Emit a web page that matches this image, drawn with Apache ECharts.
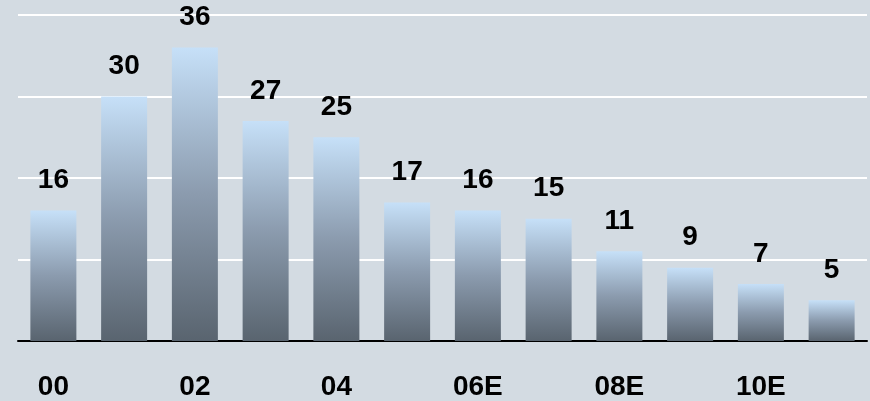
<!DOCTYPE html>
<html>
<head>
<meta charset="utf-8">
<script src="https://cdn.jsdelivr.net/npm/echarts@6/dist/echarts.min.js"></script>
<style>
html,body{margin:0;padding:0;background:#d3dbe2;}
#chart{width:870px;height:401px;}
</style>
</head>
<body>
<div id="chart"></div>
<script>
const categories = ['00','01','02','03','04','05','06E','07E','08E','09E','10E','11E'];
const values = [16, 30, 36, 27, 25, 17, 16, 15, 11, 9, 7, 5];

const chart = echarts.init(document.getElementById('chart'), null, {renderer:'canvas'});
chart.setOption({
  backgroundColor: '#d3dbe2',
  animation: false,
  grid: {left: 18, right: 3, top: 15, bottom: 59, containLabel: false},
  xAxis: {
    type: 'category',
    data: categories,
    axisLine: {show: true, lineStyle: {color: '#000', width: 2}},
    axisTick: {show: false},
    axisLabel: {
      interval: 1,
      margin: 32,
      color: '#000',
      fontFamily: '"Liberation Sans", Arial, sans-serif',
      fontWeight: 'bold',
      fontSize: 28
    }
  },
  yAxis: {
    type: 'value',
    min: 0, max: 40, interval: 10,
    axisLine: {show: false},
    axisTick: {show: false},
    axisLabel: {show: false},
    splitLine: {show: true, lineStyle: {color: '#ffffff', width: 2}}
  },
  series: [{
    type: 'bar',
    data: values,
    barWidth: 46,
    itemStyle: {
      color: new echarts.graphic.LinearGradient(0, 0, 0, 1, [
        {offset: 0, color: '#c6e0f8'},
        {offset: 0.5, color: '#8b9bae'},
        {offset: 1, color: '#59646f'}
      ])
    },
    label: {
      show: true,
      position: 'top',
      distance: 16,
      color: '#000',
      fontFamily: '"Liberation Sans", Arial, sans-serif',
      fontWeight: 'bold',
      fontSize: 28
    }
  }]
});
</script>
</body>
</html>
